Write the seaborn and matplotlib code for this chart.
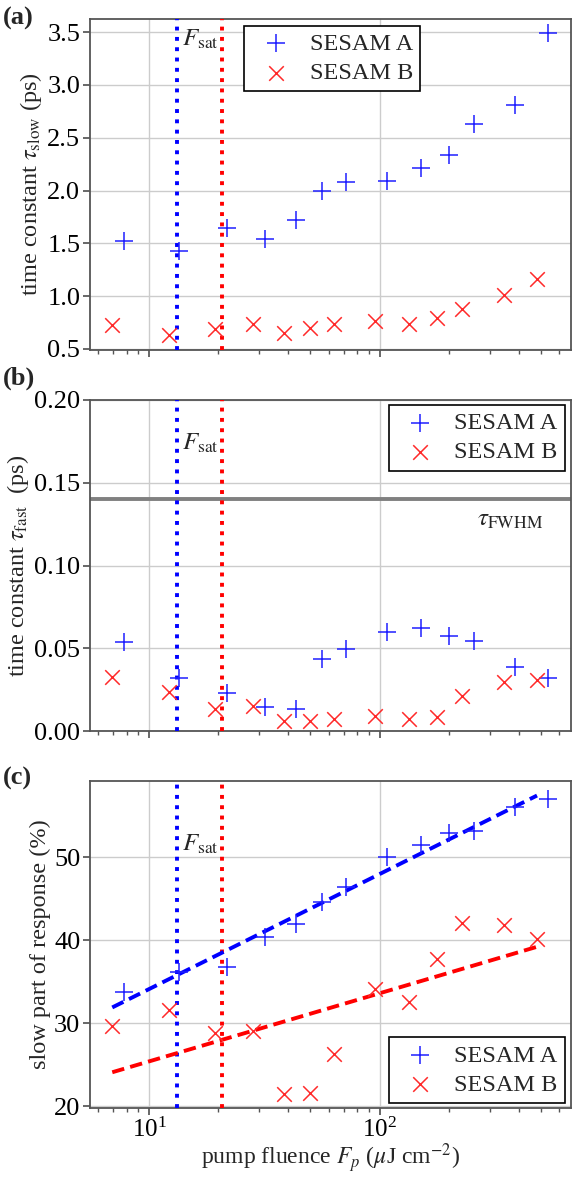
import numpy as np
import pandas as pd
import matplotlib
matplotlib.use("Agg")
import matplotlib.pyplot as plt
import seaborn as sns

# ---------------- data ----------------
fluence_A = [7.76, 13.55, 21.8, 31.8, 43.4, 56.2, 71.4, 107.9, 151.1, 200.4, 256.5, 386.4, 537.8]
fluence_B = [6.93, 12.2, 19.4, 28.3, 38.6, 50.0, 63.5, 95.7, 134.6, 177.9, 227.6, 344.4, 480.8]

tau_slow_A = [1.52, 1.43, 1.65, 1.54, 1.72, 2.00, 2.08, 2.09, 2.21, 2.34, 2.63, 2.81, 3.49]
tau_slow_B = [0.73, 0.63, 0.69, 0.74, 0.65, 0.70, 0.74, 0.76, 0.74, 0.79, 0.88, 1.01, 1.16]

tau_fast_A = [0.0537, 0.0322, 0.0231, 0.0145, 0.0135, 0.0434, 0.0498, 0.0597, 0.0621, 0.0575, 0.0545, 0.0384, 0.0322]
tau_fast_B = [0.0326, 0.0235, 0.0131, 0.0153, 0.0060, 0.0060, 0.0070, 0.0090, 0.0070, 0.0086, 0.0211, 0.0297, 0.0308]

slow_part_A = [33.8, 36.2, 36.8, 40.4, 41.9, 44.6, 46.4, 50.0, 51.5, 52.9, 53.1, 56.0, 57.0]
slow_part_B = [29.7, 31.6, 28.8, 29.1, 21.5, 21.6, 26.3, 34.1, 32.6, 37.7, 42.1, 41.8, 40.1]

fit_x = [6.93, 480.8]
fit_A = [31.9, 57.4]
fit_B = [24.1, 39.2]

Fsat_A = 13.2
Fsat_B = 20.7
tau_FWHM = 0.14

# ---------------- style ----------------
sns.set_theme(style="whitegrid")
plt.rcParams["font.family"] = ["Liberation Serif", "DejaVu Serif"]
plt.rcParams["mathtext.fontset"] = "stix"
plt.rcParams.update({
    "axes.edgecolor": "#555555",
    "axes.linewidth": 1.3,
    "grid.color": "#cccccc",
    "grid.linewidth": 1.0,
    "xtick.bottom": True,
    "ytick.left": True,
    "xtick.color": "#555555",
    "ytick.color": "#555555",
    "xtick.labelcolor": "black",
    "ytick.labelcolor": "black",
    "xtick.major.size": 5,
    "xtick.minor.size": 3,
    "ytick.major.size": 5,
    "xtick.major.pad": 2,
    "ytick.major.pad": 2,
    "xtick.minor.visible": True,
})

W, H = 572, 1178
fig = plt.figure(figsize=(W / 100, H / 100), dpi=100)

def box(top, bottom, left=90, right=571):
    return [left / W, 1 - bottom / H, (right - left) / W, (bottom - top) / H]

ax_a = fig.add_axes(box(19, 350))
ax_b = fig.add_axes(box(400, 731), sharex=ax_a)
ax_c = fig.add_axes(box(781, 1108), sharex=ax_a)

blue = "#1f1fff"
red = "#ff2a2a"
TFS = 19   # tick labels
LFS = 17.5 # axis labels
GFS = 17.5 # legend
AFS = 18   # annotations

def draw(ax, yA, yB):
    sns.scatterplot(x=fluence_A, y=yA, ax=ax, marker="+", s=150, color=blue,
                    linewidth=1.1, label="SESAM A", zorder=4)
    sns.scatterplot(x=fluence_B, y=yB, ax=ax, marker="x", s=110, color=red,
                    linewidth=1.1, label="SESAM B", zorder=4)
    ax.axvline(Fsat_A, color="blue", ls=":", lw=2.8, zorder=3)
    ax.axvline(Fsat_B, color="red", ls=":", lw=2.8, zorder=3)
    ax.set_xscale("log")
    ax.set_xlim(5.55, 675)
    ax.tick_params(axis="both", labelsize=TFS, direction="out")
    ax.tick_params(axis="x", labelsize=18)
    ax.tick_params(axis="x", which="minor", bottom=True, length=3, color="#555555")
    ax.grid(True, which="major")
    ax.grid(False, which="minor")

def legend(ax, **kw):
    leg = ax.legend(fontsize=GFS, frameon=True, fancybox=False, edgecolor="black",
                    framealpha=1, handletextpad=0.4, borderpad=0.3, labelspacing=0.3,
                    borderaxespad=0.2, **kw)
    leg.get_frame().set_linewidth(1.2)
    return leg

# (a)
draw(ax_a, tau_slow_A, tau_slow_B)
ax_a.set_ylim(0.49, 3.625)
ax_a.set_yticks([0.5, 1.0, 1.5, 2.0, 2.5, 3.0, 3.5])
ax_a.set_ylabel(r"time constant $\tau_{\mathrm{slow}}$ (ps)", fontsize=LFS, labelpad=2)
ax_a.text(13.9, 3.43, r"$F_{\mathrm{sat}}$", fontsize=AFS, va="center", ha="left")
legend(ax_a, loc="upper left", bbox_to_anchor=(0.31, 0.995))
plt.setp(ax_a.get_xticklabels(), visible=False)

# (b)
draw(ax_b, tau_fast_A, tau_fast_B)
ax_b.axhline(tau_FWHM, color="#808080", lw=2.8, zorder=2)
ax_b.set_ylim(0, 0.2)
ax_b.set_yticks([0.0, 0.05, 0.10, 0.15, 0.20])
ax_b.set_yticklabels(["0.00", "0.05", "0.10", "0.15", "0.20"])
ax_b.set_ylabel(r"time constant $\tau_{\mathrm{fast}}$  (ps)", fontsize=LFS, labelpad=2)
ax_b.text(13.9, 0.174, r"$F_{\mathrm{sat}}$", fontsize=AFS, va="center", ha="left")
ax_b.text(263, 0.1275, r"$\tau_{\mathrm{FWHM}}$", fontsize=AFS, va="center", ha="left")
legend(ax_b, loc="upper right", bbox_to_anchor=(0.997, 1.0))
plt.setp(ax_b.get_xticklabels(), visible=False)

# (c)
draw(ax_c, slow_part_A, slow_part_B)
sns.lineplot(x=fit_x, y=fit_A, ax=ax_c, color="blue", lw=2.8, zorder=3)
sns.lineplot(x=fit_x, y=fit_B, ax=ax_c, color="red", lw=2.8, zorder=3)
for ln in ax_c.lines[-2:]:
    ln.set_linestyle((0, (3.2, 1.6)))
ax_c.set_ylim(19.8, 59.15)
ax_c.set_yticks([20, 30, 40, 50])
ax_c.set_ylabel("slow part of response (%)", fontsize=LFS, labelpad=2)
ax_c.set_xlabel(r"pump fluence $F_p$ ($\mu$J cm$^{-2}$)", fontsize=17, labelpad=0)
ax_c.text(13.9, 51.5, r"$F_{\mathrm{sat}}$", fontsize=AFS, va="center", ha="left")
legend(ax_c, loc="lower right", bbox_to_anchor=(0.997, 0.0))

for lab, y in [("(a)", 18), ("(b)", 378), ("(c)", 778)]:
    fig.text(3 / W, 1 - y / H, lab, fontsize=19, fontweight="bold", va="center", ha="left")

fig.savefig("out.png", dpi=100)
